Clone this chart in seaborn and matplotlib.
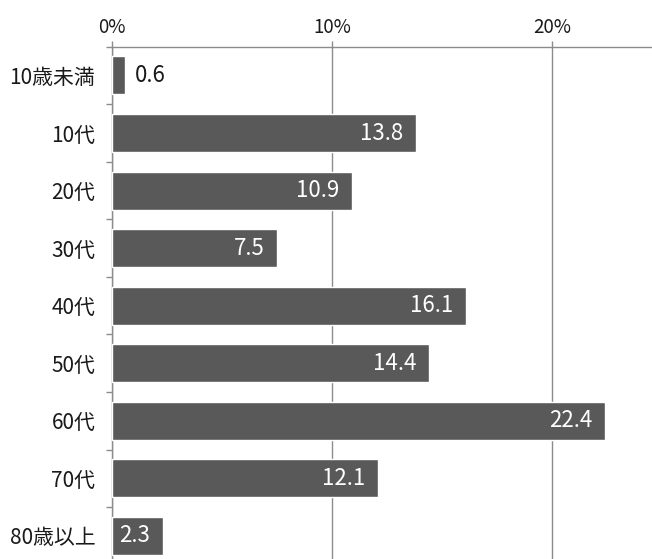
import matplotlib
matplotlib.use("Agg")
import matplotlib.pyplot as plt
import seaborn as sns
import pandas as pd
from matplotlib.ticker import FixedLocator

categories = ["10歳未満", "10代", "20代", "30代", "40代", "50代", "60代", "70代", "80歳以上"]
values = [0.6, 13.8, 10.9, 7.5, 16.1, 14.4, 22.4, 12.1, 2.3]
x_ticks = [0, 10, 20]
x_tick_labels = ["0%", "10%", "20%"]

sns.set_theme(style="white")
plt.rcParams['font.family'] = ['Noto Sans CJK JP', 'DejaVu Sans']

df = pd.DataFrame({"cat": categories, "val": values})

fig = plt.figure(figsize=(6.52, 5.59), dpi=100)
ax = fig.add_axes([112 / 652, -5.6 / 559, 1 - 112 / 652, (559 - 46.7 + 5.6) / 559])

sns.barplot(data=df, x="val", y="cat", orient="h", color="#595959", saturation=1,
            width=0.66, ax=ax, zorder=3)

ax.set_xlim(0, (652 - 112) / 22.0)
ax.set_ylim(len(categories) - 0.5, -0.5)

ax.xaxis.tick_top()
ax.set_xticks(x_ticks)
ax.set_xticklabels(x_tick_labels, fontsize=13.5, color="#1a1a1a")
ax.tick_params(axis="x", which="major", length=4, width=1, color="#8c8c8c", pad=2, top=True, bottom=False)
ax.set_xlabel("")
ax.set_ylabel("")

ax.set_yticks(range(len(categories)))
ax.set_yticklabels(categories, fontsize=15, color="#1a1a1a")
ax.tick_params(axis="y", which="major", length=0, pad=12)
ax.yaxis.set_minor_locator(FixedLocator([i - 0.5 for i in range(len(categories) + 1)]))
ax.tick_params(axis="y", which="minor", length=4.5, width=1, color="#8c8c8c", left=True)

ax.grid(axis="x", color="#8c8c8c", linewidth=1, zorder=0)
ax.grid(axis="y", visible=False)
for s in ["right", "bottom"]:
    ax.spines[s].set_visible(False)
for s in ["top", "left"]:
    ax.spines[s].set_color("#8c8c8c")
    ax.spines[s].set_linewidth(1)
ax.set_axisbelow(True)

for i, v in enumerate(values):
    label = f"{v:.1f}"
    if v < 1.5:
        ax.annotate(label, (v, i), xytext=(7, 0), textcoords="offset points",
                    ha="left", va="center", fontsize=16, color="#1a1a1a")
    else:
        ax.annotate(label, (v, i), xytext=(-9, 0), textcoords="offset points",
                    ha="right", va="center", fontsize=16, color="white")

fig.savefig("out.png", dpi=100)
